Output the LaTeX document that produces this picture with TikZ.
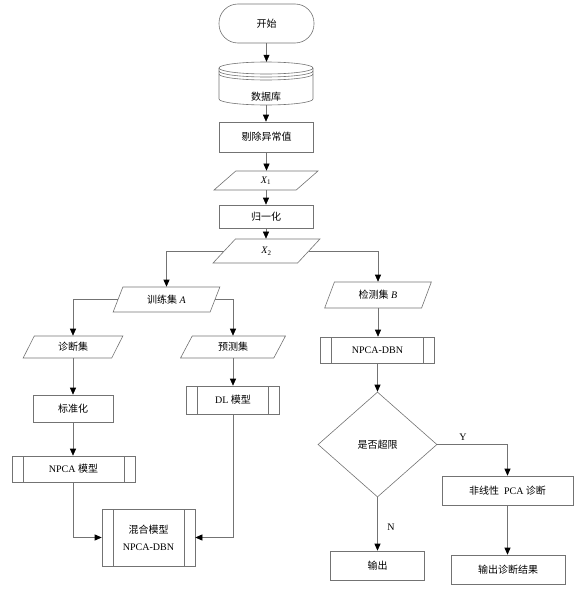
\documentclass[tikz,border=0pt]{standalone}
\usepackage{fontspec}
\setmainfont{Liberation Serif}
\newfontfamily\cjk{Noto Sans CJK SC}
\usetikzlibrary{arrows.meta,shapes.geometric,calc}
\definecolor{linec}{gray}{0.45}
\begin{document}
\begin{tikzpicture}[x=1pt,y=-1pt,
  every node/.style={font=\fontsize{10pt}{17pt}\selectfont, text=black},
  box/.style={draw=linec, line width=0.6pt, rectangle, inner sep=0pt},
  para/.style={draw=linec, line width=0.6pt, trapezium, trapezium left angle=65,
    trapezium right angle=115, trapezium stretches=true, inner sep=0pt},
  predef/.style={box, path picture={
    \draw[linec, line width=0.6pt] ([xshift=11pt]path picture bounding box.north west) -- ([xshift=11pt]path picture bounding box.south west);
    \draw[linec, line width=0.6pt] ([xshift=-11pt]path picture bounding box.north east) -- ([xshift=-11pt]path picture bounding box.south east);}},
  term/.style={box, rounded corners=19pt},
  dec/.style={draw=linec, line width=0.6pt, diamond, inner sep=0pt},
  conn/.style={draw=linec, line width=0.6pt},
  arr/.style={conn, -{Triangle[length=7pt,width=6pt,color=black]}}
]
\useasboundingbox (0,0) rectangle (587,589);

% nodes
\node[term, minimum width=95pt, minimum height=39pt] (start) at (266.5,23.5) {\cjk 开始};
\node[inner sep=0pt, minimum width=94pt, minimum height=43pt] (db) at (266,83.5) {};
\node[box, minimum width=94pt, minimum height=30pt] (rm) at (266.5,137) {\cjk 剔除异常值};
\node[para, minimum width=104pt, minimum height=19pt] (x1) at (266,180.5) {\textit{X}\textsubscript{1}};
\node[box, minimum width=94pt, minimum height=23pt] (norm) at (266,216.5) {\cjk 归一化};
\node[para, minimum width=107pt, minimum height=24pt] (x2) at (266.5,251) {\textit{X}\textsubscript{2}};
\node[para, minimum width=107pt, minimum height=25pt] (ta) at (166.5,299.5) {{\cjk 训练集} \textit{A}};
\node[para, minimum width=107pt, minimum height=26pt] (tb) at (378,295) {{\cjk 检测集} \textit{B}};
\node[para, minimum width=100pt, minimum height=22pt] (ds) at (73,347) {\cjk 诊断集};
\node[para, minimum width=105pt, minimum height=22pt] (ps) at (233,347) {\cjk 预测集};
\node[box, minimum width=80pt, minimum height=27pt] (std) at (73,408.5) {\cjk 标准化};
\node[predef, minimum width=93pt, minimum height=28pt] (dl) at (233,400) {DL {\cjk 模型}};
\node[predef, minimum width=123pt, minimum height=26pt] (npca) at (73.5,469) {NPCA {\cjk 模型}};
\node[predef, minimum width=93pt, minimum height=57pt, align=center] (mix) at (148.5,537.5) {{\cjk 混合模型}\\NPCA-DBN};
\node[predef, minimum width=114pt, minimum height=26pt] (nd) at (377.5,350) {NPCA-DBN};
\node[dec, minimum width=119pt, minimum height=105pt] (dia) at (377.5,444.5) {\cjk 是否超限};
\node[box, minimum width=131pt, minimum height=29pt] (nl) at (507.5,490.5) {{\cjk 非线性}\ \ PCA {\cjk 诊断}};
\node[box, minimum width=94pt, minimum height=29pt] (out) at (377.5,565.5) {\cjk 输出};
\node[box, minimum width=114pt, minimum height=29pt] (res) at (508,569.5) {\cjk 输出诊断结果};
\node (ly) at (463,437) {Y};
\node (ln) at (391,527) {N};

% database cylinder
\draw[conn] (266,68) ellipse [x radius=47pt, y radius=6pt];
\draw[conn] (219,71) arc[start angle=180, end angle=360, x radius=47pt, y radius=6pt];
\draw[conn] (219,74) arc[start angle=180, end angle=360, x radius=47pt, y radius=6pt];
\draw[conn] (219,68) -- (219,99) arc[start angle=180, end angle=360, x radius=47pt, y radius=6pt] -- (313,68);
\node (dbt) at (266,97) {\cjk 数据库};

% connectors
\draw[arr] (start.south) -- (start.south |- db.north);
\draw[arr] (db.south) -- (db.south |- rm.north);
\draw[arr] (rm.south) -- (rm.south |- x1.north);
\draw[arr] (x1.south) -- (x1.south |- norm.north);
\draw[arr] (norm.south) -- (norm.south |- x2.north);
\draw[arr] (x2.west) -| (ta.north);
\draw[arr] (x2.east) -| (tb.north);
\draw[arr] (ta.west) -| (ds.north);
\draw[arr] (ta.east) -| (ps.north);
\draw[arr] (ds.south) -- (ds.south |- std.north);
\draw[arr] (std.south) -- (std.south |- npca.north);
\draw[arr] (ps.south) -- (ps.south |- dl.north);
\draw[arr] (npca.south) |- (mix.west);
\draw[arr] (dl.south) |- (mix.east);
\draw[arr] (tb.south) -- (tb.south |- nd.north);
\draw[arr] (nd.south) -- (nd.south |- dia.north);
\draw[arr] (dia.east) -| (nl.north);
\draw[arr] (dia.south) -- (dia.south |- out.north);
\draw[arr] (nl.south) -- (nl.south |- res.north);
\end{tikzpicture}
\end{document}
